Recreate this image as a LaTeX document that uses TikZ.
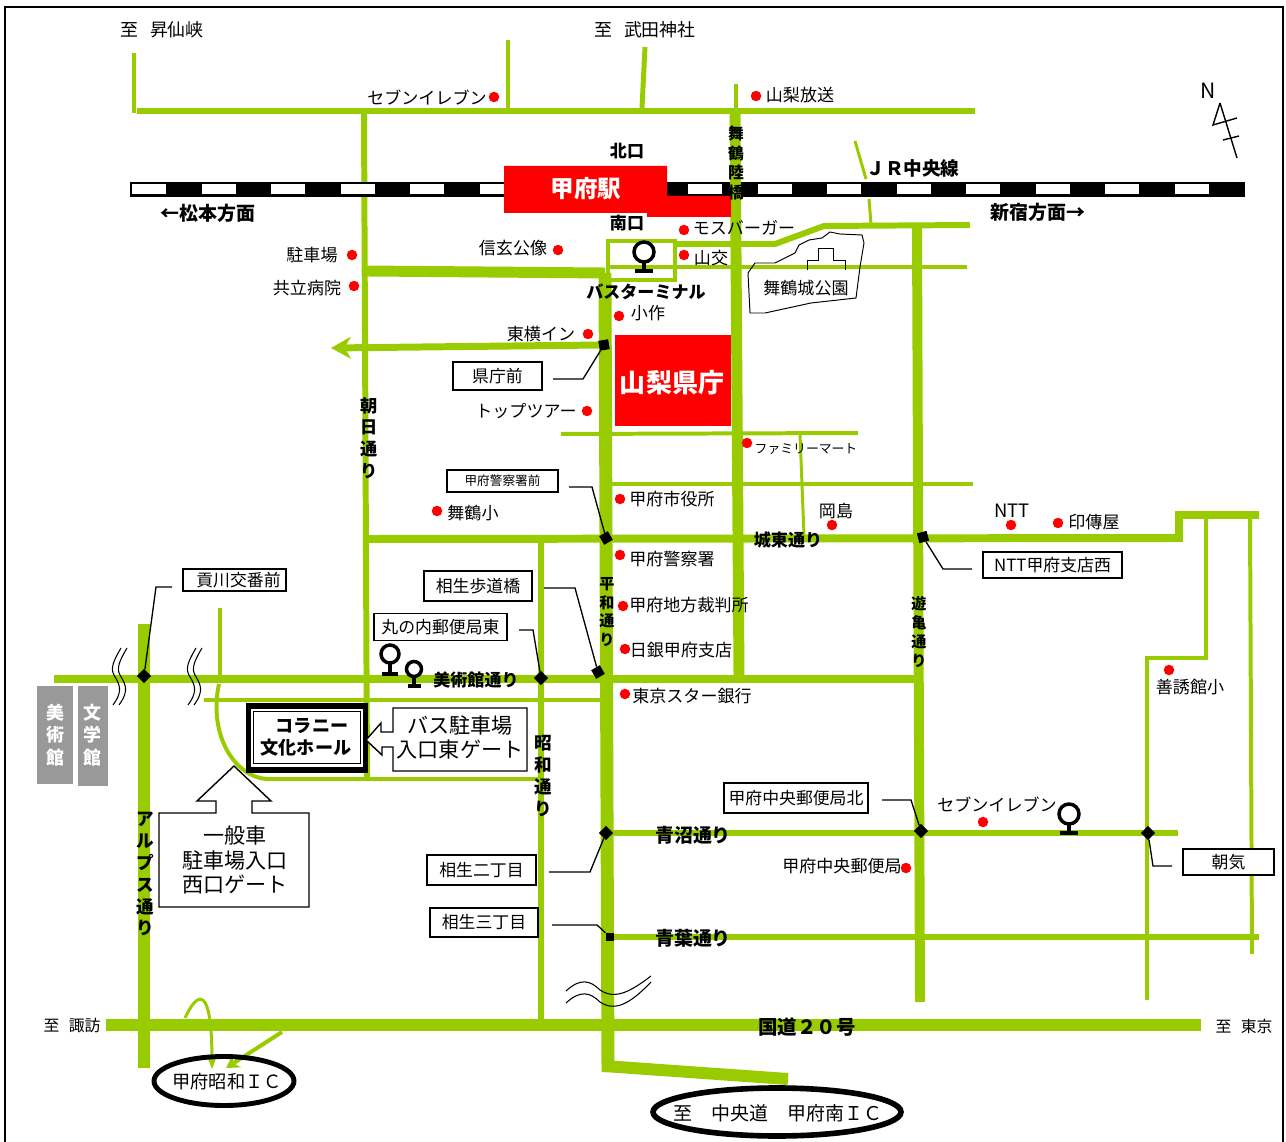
\documentclass[tikz,border=0pt]{standalone}
\usepackage{fontspec}
\setmainfont{Noto Sans CJK JP}
\usetikzlibrary{arrows.meta}
\usetikzlibrary{shapes.geometric}
\definecolor{roadgreen}{HTML}{99CC00}
\definecolor{hallgrey}{HTML}{999999}
\tikzset{
    road/.style={draw=roadgreen, line width=#1*0.567pt},
    lbl/.style={inner sep=0pt, font=\fontsize{9.7}{11}\selectfont},
    lblb/.style={inner sep=0pt, font=\bfseries\fontsize{9.7}{11}\selectfont},
    vtext/.style={inner sep=0pt, align=center, font=\bfseries\fontsize{#1}{\dimexpr#1pt*5/4\relax}\selectfont},
    tagbox/.style={draw, line width=0.9pt, fill=white, inner sep=0pt, font=\fontsize{9.6}{11}\selectfont},
    leader/.style={line width=0.75pt},
    junc/.style={fill=black, inner sep=0pt, minimum size=0.2cm, rotate=#1},
    pin/.style={circle, fill=red, inner sep=0pt, minimum size=0.21cm},
    gate/.style={draw, line width=0.8pt, fill=white},
    gatetext/.style={inner sep=0pt, align=center, font=\fontsize{12}{13.7}\selectfont},
    icring/.style={ellipse, draw, inner sep=0pt}
}
\begin{document}
\begin{tikzpicture}[x=0.02cm, y=-0.02cm]
    \useasboundingbox (0,0) rectangle (1286,1142);
    \draw [line width=1.3pt] (5,1142) -- (5,7) -- (1283,7) -- (1283,1142);
    % roads
    \draw [road=5] (134,53) -- (134,113);
    \draw [road=6] (137,111) -- (975,111);
    \draw [road=5] (508,40) -- (508,108);
    \draw [road=5] (645,47) -- (642,108);
    \draw [road=6] (364,114) -- (367,778);
    \draw [road=11] (367,271) -- (605,273);
    \draw [road=4.5] (608,241) -- (675,241) -- (675,280) -- (608,280) -- cycle;
    \draw [road=6] (675,244) -- (775,244) -- (824,226) -- (970,225);
    \draw [road=5] (606,267) -- (967,267);
    \draw [road=10] (917,228) -- (920,1002);
    \draw [road=3] (855,141) -- (866,179);
    \draw [road=3] (869,199) -- (871,224);
    \draw [road=7, -{Stealth[length=0.4cm, width=0.44cm]}] (602,345) -- (331,348);
    \draw [road=4] (561,434) -- (858,433);
    \draw [road=4] (612,484) -- (973,484);
    \draw [road=3] (800,434) -- (804,535);
    \draw [road=8] (367,539) -- (1179,538) -- (1179,515) -- (1259,515);
    \draw [road=4.5] (1206,515) -- (1206,658) -- (1147,658) -- (1147,1000);
    \draw [road=4] (1250,515) -- (1252,954);
    \draw [road=6] (541,542) -- (541,1020);
    \draw [road=9] (54,679) -- (917,679);
    \draw [road=4] (204,700) -- (605,700);
    \draw [road=4] (220,608) -- (220,675);
    \draw [road=4] (219,684) .. controls (208,735) and (235,778) .. (268,779) -- (540,779);
    \draw [road=12] (144,624) -- (144,1068);
    \draw [road=13] (106,1025) -- (1201,1025);
    \draw [road=6] (610,833) -- (1178,833);
    \draw [road=7] (610,937) -- (1259,937);
    \draw [road=13] (605,273) -- (608,1072);
    \draw [road=12] (604,1066) -- (788,1079);
    \draw [road=3, -{Stealth[length=0.26cm, width=0.2cm]}] (185,1018) .. controls (198,990) and (212,985) .. (212,1069);
    \draw [road=4, -{Stealth[length=0.26cm, width=0.3cm]}] (282,1032) -- (226,1068);
    % railway
    \draw [fill=black, line width=0.8pt] (131,183) rectangle (1244,196);
    \foreach \k in {0,...,15}
        \fill [white] (132+69.5*\k,184.5) rectangle (166+69.5*\k,194.5);
    \draw [road=4] (736,84) -- (736,111);
    \draw [road=11] (735,111) -- (739,675);
    % buildings
    \fill [red] (504,166) -- (667,166) -- (667,196) -- (731,196) -- (731,217) -- (647,217) -- (647,213) -- (504,213) -- cycle;
    \node [inner sep=0pt, text=white, font=\bfseries\fontsize{13.4}{15}\selectfont] (kofuSta) at (586,189) {甲府駅};
    \node [fill=red, inner sep=0pt, minimum width=2.32cm, minimum height=1.82cm] (pref) at (673,380.5) {};
    \node [inner sep=0pt, text=white, font=\bfseries\fontsize{14.8}{16}\selectfont] (prefName) at (672,383) {山梨県庁};
    \draw [line width=0.55pt] (755,263) -- (775,263) -- (795,253) -- (799,245) -- (809,240) -- (822,238) -- (830,232) -- (840,234) -- (862,235) -- (864,243) -- (860,267) -- (856,298) -- (811,303) -- (765,313) -- (750,313) -- (748,273) -- cycle;
    \draw [line width=0.55pt] (807,270) -- (807,260) -- (818,260) -- (818,248) -- (833,248) -- (833,260) -- (845,260) -- (845,270);
    \fill [hallgrey] (37,686) rectangle (73,784);
    \fill [hallgrey] (78,686) rectangle (108,786);
    \node [vtext=10.2, text=white] (bijutsu) at (55,735) {美\\術\\館};
    \node [vtext=10.2, text=white] (bungaku) at (92,735) {文\\学\\館};
    % breaks
    \foreach \dx in {0,75}
        \foreach \s in {0,6}
            \draw [line width=0.6pt] (121+\dx+\s,648) .. controls (114+\dx+\s,660) and (110+\dx+\s,668) .. (114+\dx+\s,675) .. controls (119+\dx+\s,684) and (124+\dx+\s,690) .. (113+\dx+\s,705);
    \foreach \s in {0,12}
        \draw [line width=0.6pt] (566,991+\s) .. controls (580,978+\s) and (590,980+\s) .. (600,990+\s) .. controls (615,1000+\s) and (630,992+\s) .. (651,976+\s*0.5);
    % north
    \node [inner sep=0pt, font=\fontsize{12}{13}\selectfont] (northMark) at (1208,91) {N};
    \draw [line width=0.8pt] (1220,103) -- (1237,158);
    \draw [line width=0.8pt] (1220,103) -- (1213,125) -- (1237,118);
    \draw [line width=0.8pt] (1223,140) -- (1239,136);
    % bus stops
    \foreach \x/\y/\r/\b in {644/252/10/271, 390/654/9/674, 414/669/7.5/686, 1069/814/10/833}
    {
        \draw [line width=2pt] (\x,\y) circle [radius=\r];
        \draw [line width=2pt] (\x,\y+\r) -- (\x,\b);
        \draw [line width=2pt] (\x-\r+1,\b) -- (\x+\r-1,\b);
    }
    % spots
    \foreach \x/\y [count=\n] in {494/97, 756/96, 352/255, 354/286, 558/250, 684/230, 684/255, 619/316, 588/334, 587/411, 747/443, 620/499, 437/511, 832/525, 1011/525, 1058/523, 620/555, 623/606, 625/649, 625/694, 983/822, 906/868, 1169/670}
        \node [pin] (pin\n) at (\x,\y) {};
    % place names
    \node [lbl, font=\fontsize{10.2}{12}\selectfont] (toShosen) at (162,30) {至 \hspace{0.44em}昇仙峡};
    \node [lbl, font=\fontsize{10.2}{12}\selectfont] (toTakeda) at (645,30) {至 \hspace{0.44em}武田神社};
    \node [lbl] (seven) at (427,97) {セブンイレブン};
    \node [lbl] (ybs) at (800,95) {山梨放送};
    \node [lblb] (northExit) at (627,151) {北口};
    \node [lblb, font=\bfseries\fontsize{10.6}{12}\selectfont] (jr) at (913,168) {ＪＲ中央線};
    \node [lblb, font=\bfseries\fontsize{10.8}{12}\selectfont] (matsumoto) at (208,213) {←松本方面};
    \node [lblb, font=\bfseries\fontsize{10.8}{12}\selectfont] (shinjuku) at (1038,212) {新宿方面→};
    \node [lblb] (southExit) at (627,223) {南口};
    \node [lbl] (parking) at (312,255) {駐車場};
    \node [lbl] (kyoritsu) at (307,288) {共立病院};
    \node [lbl] (shingen) at (513,248) {信玄公像};
    \node [lbl] (mos) at (744,228) {モスバーガー};
    \node [lbl] (sanko) at (711,258) {山交};
    \node [lbl] (parkName) at (806,288) {舞鶴城公園};
    \node [lblb] (terminal) at (646,292) {バスターミナル};
    \node [lbl] (kosaku) at (648,313) {小作};
    \node [lbl] (toyoko) at (541,334) {東横イン};
    \node [lbl] (toptour) at (526,411) {トップツアー};
    \node [lbl, font=\fontsize{7.3}{9}\selectfont] (family) at (806,449) {ファミリーマート};
    \node [lbl] (cityHall) at (672,499) {甲府市役所};
    \node [lbl] (maizuruSch) at (473,513) {舞鶴小};
    \node [lbl] (okajima) at (836,511) {岡島};
    \node [lbl, font=\fontsize{10.5}{12}\selectfont] (ntt) at (1012,511) {NTT};
    \node [lbl] (indenya) at (1094,522) {印傳屋};
    \node [lblb] (jotoSt) at (788,540) {城東通り};
    \node [lbl] (police) at (672,559) {甲府警察署};
    \node [lbl] (court) at (689,605) {甲府地方裁判所};
    \node [lbl] (boj) at (681,650) {日銀甲府支店};
    \node [lbl] (tokyoStar) at (692,696) {東京スター銀行};
    \node [lblb] (bijutsuSt) at (476,680) {美術館通り};
    \node [lbl] (zenyu) at (1190,687) {善誘館小};
    \node [lbl] (sevenB) at (997,804) {セブンイレブン};
    \node [lblb, font=\bfseries\fontsize{10.8}{12}\selectfont] (aonuma) at (693,835) {青沼通り};
    \node [lbl] (postOffice) at (842,866) {甲府中央郵便局};
    \node [lblb, font=\bfseries\fontsize{10.8}{12}\selectfont] (aoba) at (693,938) {青葉通り};
    \node [lblb, font=\bfseries\fontsize{11.1}{12}\selectfont] (route20) at (807,1027) {国道２０号};
    \node [lbl, font=\fontsize{9}{10}\selectfont] (toSuwa) at (72,1026) {至 \hspace{0.38em}諏訪};
    \node [lbl, font=\fontsize{9}{10}\selectfont] (toTokyo) at (1244,1026) {至 \hspace{0.38em}東京};
    \node [vtext=9] (maizuruBr) at (736,163) {舞\\鶴\\陸\\橋};
    \node [vtext=9.8] (asahi) at (369,438) {朝\\日\\通\\り};
    \node [vtext=8.6] (heiwa) at (607,612) {平\\和\\通\\り};
    \node [vtext=8.6] (yukame) at (919,632) {遊\\亀\\通\\り};
    \node [vtext=10] (showa) at (543,776) {昭\\和\\通\\り};
    \node [vtext=10] (alps) at (145,874) {ア\\ル\\プ\\ス\\通\\り};
    % junctions
    \node [junc=10] (j1) at (604,345) {};
    \node [junc=30] (j2) at (606,538) {};
    \node [junc=30] (j3) at (598,672) {};
    \node [junc=45] (j4) at (541,678) {};
    \node [junc=45] (j5) at (144,676) {};
    \node [junc=45] (j6) at (606,833) {};
    \node [junc=0, minimum size=0.17cm] (j7) at (610,937) {};
    \node [junc=15] (j8) at (923,537) {};
    \node [junc=45] (j9) at (921,831) {};
    \node [junc=45] (j10) at (1148,833) {};
    % tag boxes
    \node [tagbox, minimum width=1.78cm, minimum height=0.56cm] (t1) at (497.5,376) {県庁前};
    \node [tagbox, minimum width=2.22cm, minimum height=0.44cm, font=\fontsize{7.2}{8}\selectfont] (t2) at (502.5,481) {甲府警察署前};
    \node [tagbox, minimum width=2.16cm, minimum height=0.6cm] (t3) at (478,586) {相生歩道橋};
    \node [tagbox, minimum width=2.66cm, minimum height=0.54cm] (t4) at (440.5,627) {丸の内郵便局東};
    \node [tagbox, minimum width=2.06cm, minimum height=0.44cm] (t5) at (234.5,580) {\hspace*{0.16cm}\raisebox{-1.6pt}{貢川交番前}};
    \node [tagbox, minimum width=2.18cm, minimum height=0.6cm] (t6) at (481.5,870) {相生二丁目};
    \node [tagbox, minimum width=2.16cm, minimum height=0.58cm] (t7) at (484,922.5) {相生三丁目};
    \node [tagbox, minimum width=2.78cm, minimum height=0.52cm] (t8) at (1052.5,565) {NTT甲府支店西};
    \node [tagbox, minimum width=2.88cm, minimum height=0.6cm] (t9) at (796,798) {甲府中央郵便局北};
    \node [tagbox, minimum width=1.82cm, minimum height=0.52cm] (t10) at (1228.5,862) {朝気};
    % leaders
    \coordinate (s1) at (553,379);
    \coordinate (b1) at (583,379);
    \coordinate (s2) at (569,487);
    \coordinate (b2) at (592,487);
    \coordinate (s3) at (544,588);
    \coordinate (b3) at (575,588);
    \coordinate (s4) at (519,630);
    \coordinate (b4) at (533,630);
    \coordinate (s5) at (172,587);
    \coordinate (b5) at (156,587);
    \coordinate (s6) at (549,872);
    \coordinate (b6) at (590,872);
    \coordinate (s7) at (552,925);
    \coordinate (b7) at (597,925);
    \coordinate (s8) at (972,569);
    \coordinate (b8) at (943,569);
    \coordinate (s9) at (882,800);
    \coordinate (b9) at (911,800);
    \coordinate (s10) at (1172,866);
    \coordinate (b10) at (1153,866);
    \draw [leader] (s1) -- (b1) -- (j1);
    \draw [leader] (s2) -- (b2) -- (j2);
    \draw [leader] (s3) -- (b3) -- (j3);
    \draw [leader] (s4) -- (b4) -- (j4);
    \draw [leader] (s5) -- (b5) -- (j5);
    \draw [leader] (s6) -- (b6) -- (j6);
    \draw [leader] (s7) -- (b7) -- (j7);
    \draw [leader] (s8) -- (b8) -- (j8);
    \draw [leader] (s9) -- (b9) -- (j9);
    \draw [leader] (s10) -- (b10) -- (j10);
    % hall
    \node [draw, line width=3.2pt, fill=white, inner sep=0pt, minimum width=2.34cm, minimum height=1.28cm] (hall) at (307,738) {};
    \node [draw, line width=0.55pt, inner sep=0pt, minimum width=2.14cm, minimum height=1.04cm] (hallIn) at (307,737) {};
    \node [lblb, font=\bfseries\fontsize{10.3}{12}\selectfont] (hallA) at (312,726) {コラニー};
    \node [lblb, font=\bfseries\fontsize{10.3}{12}\selectfont] (hallB) at (306,748) {文化ホール};
    % gates
    \draw [gate] (393,708) -- (527,708) -- (527,771) -- (393,771) -- (393,747) -- (382,747) -- (382,755) -- (366,740) -- (381,723) -- (381,732) -- (393,732) -- cycle;
    \node [gatetext] (eastGate) at (460,737) {バス駐車場\\入口東ゲート};
    \draw [gate] (159,813) -- (216,813) -- (216,801) -- (197,801) -- (234,766) -- (271,801) -- (252,801) -- (252,813) -- (309,813) -- (309,907) -- (159,907) -- cycle;
    \node [gatetext] (westGate) at (235,860) {一般車\\駐車場入口\\西口ゲート};
    % interchanges
    \node [icring, line width=2.8pt, minimum width=2.8cm, minimum height=0.98cm] (showaIC) at (224,1081) {};
    \node [lbl, font=\fontsize{10.4}{12}\selectfont] (showaName) at (227,1082) {甲府昭和ＩＣ};
    \node [icring, line width=3.2pt, minimum width=4.96cm, minimum height=0.96cm] (minamiIC) at (777,1112) {};
    \node [lbl, font=\fontsize{10.8}{12}\selectfont] (minamiName) at (778,1113) {至　中央道　甲府南ＩＣ};
\end{tikzpicture}
\end{document}
